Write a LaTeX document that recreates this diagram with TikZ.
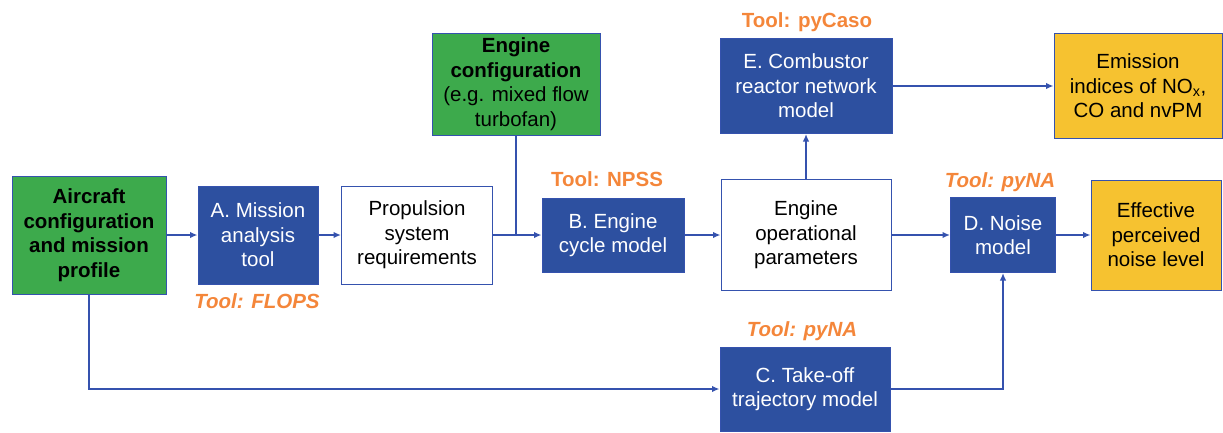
\documentclass[tikz,border=0pt]{standalone}
\usepackage{fontspec}
\setmainfont{Liberation Sans}
\usetikzlibrary{arrows.meta}
\definecolor{boxblue}{HTML}{2D50A0}
\definecolor{lineblue}{HTML}{3552AE}
\definecolor{inpgreen}{HTML}{3DAA4C}
\definecolor{resyellow}{HTML}{F6C230}
\definecolor{toolorange}{HTML}{F4863A}
\begin{document}
\begin{tikzpicture}[x=1pt,y=-1pt]
        \tikzstyle{every node}=[font=\fontsize{20.5}{24.5}\selectfont, align=center, inner sep=0pt]
        \tikzstyle{blk}=[rectangle, draw=lineblue, line width=1pt]
        \tikzstyle{model}=[blk, fill=boxblue, text=white]
        \tikzstyle{inp}=[blk, fill=inpgreen, font=\fontsize{20.5}{24.5}\selectfont\bfseries]
        \tikzstyle{res}=[blk, fill=resyellow]
        \tikzstyle{par}=[blk, fill=white]
        \tikzstyle{tool}=[text=toolorange, font=\fontsize{20.5}{24.5}\selectfont\bfseries]
        \tikzstyle{flow}=[draw=lineblue, line width=1.6pt, -{Latex[length=7.5pt,width=6.5pt]}]
        \useasboundingbox (0,0) rectangle (1223,432);
        % first row
        \node[inp, minimum width=154, minimum height=118] (air) at (89,235) {Aircraft\\configuration\\and mission\\profile};
        \node[model, minimum width=120, minimum height=98] (misA) at (258,235) {A. Mission\\analysis\\tool};
        \node[par, minimum width=151, minimum height=98] (prop) at (417,235) {Propulsion\\system\\requirements};
        \node[inp, minimum width=168, minimum height=102, font=\fontsize{20.5}{24.5}\selectfont] (engcfg) at (516,84) {\textbf{Engine}\\\textbf{configuration}\\(e.g. mixed flow\\turbofan)};
        \node[model, minimum width=142, minimum height=74] (cycB) at (613,235) {B. Engine\\cycle model};
        \node[par, minimum width=170, minimum height=111] (eop) at (806,235) {Engine\\operational\\parameters};
        \node[model, minimum width=172, minimum height=95] (combE) at (806,86) {E. Combustor\\reactor network\\model};
        \node[res, minimum width=168, minimum height=105] (emis) at (1138,86) {Emission\\indices of NO\textsubscript{x},\\CO and nvPM};
        \node[model, minimum width=105, minimum height=75] (noiseD) at (1003,235) {D. Noise\\model};
        \node[res, minimum width=130, minimum height=110] (epnl) at (1156,235) {Effective\\perceived\\noise level};
        \node[model, minimum width=170, minimum height=84] (takeC) at (805,389) {C. Take-off\\trajectory model};
        % tools
        \node[tool, font=\fontsize{20.5}{24.5}\selectfont\bfseries\itshape] (tA) at (257,301) {Tool: FLOPS};
        \node[tool] (tB) at (607,179) {Tool: NPSS};
        \node[tool] (tE) at (807,22) {Tool: pyCaso};
        \node[tool, font=\fontsize{20.5}{24.5}\selectfont\bfseries\itshape] (tD) at (1000,182) {Tool: pyNA};
        \node[tool, font=\fontsize{20.5}{24.5}\selectfont\bfseries\itshape] (tC) at (802,331) {Tool: pyNA};
        % connectors
        \draw[flow] (air) -- (misA);
        \draw[flow] (misA) -- (prop);
        \draw[flow] (prop) -- (cycB);
        \draw[draw=lineblue, line width=1.6pt] (engcfg.south) -- (engcfg.south |- prop.east);
        \draw[flow] (cycB) -- (eop);
        \draw[flow] (eop) -- (noiseD);
        \draw[flow] (noiseD) -- (epnl);
        \draw[flow] (eop) -- (combE);
        \draw[flow] (combE) -- (emis);
        \draw[flow] (air.south) |- (takeC.west);
        \draw[flow] (takeC.east) -| (noiseD.south);
\end{tikzpicture}
\end{document}
